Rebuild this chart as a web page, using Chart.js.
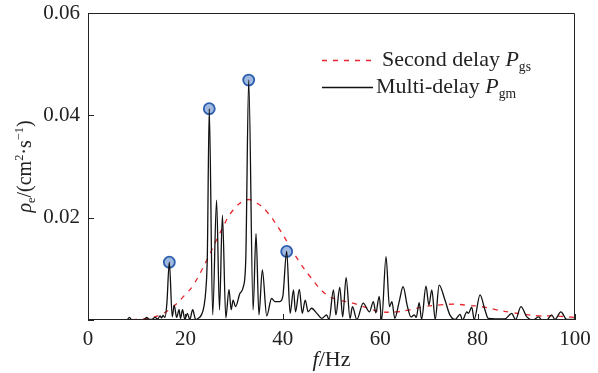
<!DOCTYPE html>
<html>
<head>
<meta charset="utf-8">
<script src="https://cdn.jsdelivr.net/npm/chart.js@4.4.1/dist/chart.umd.min.js"></script>
<style>
html, body { margin: 0; padding: 0; background: #fff; }
</style>
</head>
<body>
<canvas id="grafikSpektrum" width="598" height="373"></canvas>
<script>
// spektrum multi-delay (garis hitam)
const freqMulti = [0, 8, 8.5, 9, 11.5, 12, 12.5, 13, 13.8, 14.3, 14.8, 15.1, 15.4, 15.8, 16.2, 16.7,
    17.3, 17.7, 18.2, 18.7, 19.0, 19.4, 19.9, 20.4, 20.9, 21.5, 22.1, 22.6, 23.3, 23.8, 24.2, 24.5,
    24.9, 25.6, 26.4, 27.0, 27.6, 28.3, 28.95, 29.4, 29.8, 30.3, 31.2, 31.9, 32.4, 33.0, 33.9, 34.5,
    35.1, 35.8, 36.7, 37.7, 38.4, 39.4, 40.0, 40.8, 41.5, 42.2, 42.6, 43.4, 44.0, 44.6, 45.2, 45.9,
    47.0, 48.0, 49.0, 49.5, 50.4, 50.9, 51.7, 52.3, 53.0, 53.8, 54.3, 55.2, 56.5, 57.8, 58.6, 59.1,
    59.8, 60.3, 61.2, 61.9, 62.4, 63.0, 63.9, 64.7, 65.6, 66.3, 67.0, 67.4, 68.0, 68.5, 69.4, 70.0,
    70.6, 71.3, 72.1, 73.3, 74.3, 75.4, 76.4, 76.9, 77.8, 78.1, 78.8, 79.3, 80.5, 81.5, 82.2, 85.6,
    87.0, 87.8, 88.9, 90.1, 91.4, 92.5, 93.2, 94.2, 95.2, 95.9, 97.1, 98.3, 100];
const valMulti = [0, 0, 0.0005, 0, 0, 0.0005, 0.0002, 0.0001, 0.0005, 0.0002, 0.0008, 0.0004, 0.0009, 0.0005, 0.0033, 0.0113,
    0.0006, 0.0029, 0.0005, 0.002, 0.0003, 0.002, 0.0001, 0.0013, 0.0001, 0.002, 0.0001, 0.0003, 0.001, 0.0026, 0.0059, 0.0124,
    0.0413, 0.001, 0.0234, 0.002, 0.0205, 0.0004, 0.006, 0.002, 0.0039, 0.0026, 0.0052, 0.0065, 0.012, 0.0469, 0.002, 0.0169,
    0.001, 0.0098, 0.0008, 0.0042, 0.0036, 0.0036, 0.0046, 0.0134, 0.0013, 0.0059, 0.0016, 0.006, 0.0013, 0.0039, 0.0016, 0.0023,
    0.0013, 0.0003, 0.001, 0.0001, 0.0059, 0.001, 0.0064, 0.0006, 0.0083, 0.0003, 0.0026, 0.0001, 0.0033, 0.0016, 0.0036, 0.0014,
    0.0046, 0, 0.0124, 0.0026, 0.0036, 0.0003, 0.0036, 0.0065, 0.0026, 0.0006, 0.001, 0.0005, 0.0034, 0.0001, 0.0066, 0.0029,
    0.0059, 0.0001, 0.0068, 0.0039, 0.001, 0.0001, 0.0011, 0, 0.0016, 0.0013, 0.0025, 0.0001, 0.0049, 0.002, 0.0003, 0.0002,
    0.0013, 0.0001, 0.0026, 0.0006, 0, 0.0006, 0, 0, 0.001, 0.0001, 0.0016, 0.0001, 0.0001];

// spektrum second delay (garis merah putus-putus)
const freqSecond = [0, 10, 12, 14.8, 17.5, 19.9, 21.6, 24.4, 27.1, 29.8, 32.6, 34.6, 36.7, 39.4, 42.5, 45.6,
    49.0, 51.7, 54.4, 57.5, 60.3, 63.4, 66.1, 69.0, 71.9, 75.0, 77.7, 80.8, 83.9, 86.7, 89.7, 92.4, 95.5, 98.6, 100];
const valSecond = [0, 0.0001, 0.0003, 0.001, 0.0026, 0.0049, 0.0068, 0.0117, 0.017, 0.0215, 0.0235, 0.0229, 0.0212, 0.0176, 0.0127, 0.0085,
    0.0049, 0.0039, 0.0033, 0.0023, 0.0016, 0.0016, 0.002, 0.0026, 0.0029, 0.0031, 0.0029, 0.0026, 0.002, 0.0015, 0.0011, 0.0008, 0.0008, 0.0006, 0.0005];

// puncak yang ditandai lingkaran
const peakFreq = [16.7, 24.9, 33.0, 40.8];
const peakVal = [0.0113, 0.0413, 0.0469, 0.0134];

const xTicks = [0, 20, 40, 60, 80, 100];
const yTicks = [0, 0.02, 0.04, 0.06];

const serif = '"Liberation Serif", "Times New Roman", serif';
const warnaTeks = '#222';

function gabung(xs, ys) {
    return xs.map(function (x, i) {
        return { x: x, y: ys[i] };
    });
}

// tulis teks dengan subskrip / superskrip
function tulisRich(ctx, parts, x, y, size, align) {
    let total = 0;
    parts.forEach(function (p) {
        let s = (p.sub || p.sup) ? size * 0.62 : size;
        ctx.font = (p.it ? 'italic ' : '') + s + 'px ' + serif;
        p.w = ctx.measureText(p.t).width;
        p.s = s;
        total += p.w;
    });
    let cx = align === 'center' ? x - total / 2 : x;
    ctx.textAlign = 'left';
    ctx.textBaseline = 'alphabetic';
    parts.forEach(function (p) {
        ctx.font = (p.it ? 'italic ' : '') + p.s + 'px ' + serif;
        let dy = p.sub ? size * 0.22 : (p.sup ? -size * 0.38 : 0);
        ctx.fillText(p.t, cx, y + dy);
        cx += p.w;
    });
}

const dekorasi = {
    id: 'dekorasi',
    afterDraw: function (chart) {
        const ctx = chart.ctx;
        const a = chart.chartArea;
        const sx = chart.scales.x;
        const sy = chart.scales.y;
        ctx.save();
        ctx.strokeStyle = warnaTeks;
        ctx.lineWidth = 1;
        ctx.beginPath();
        ctx.rect(a.left + 0.5, a.top + 0.5, a.right - a.left - 1, a.bottom - a.top - 1);
        ctx.stroke();
        // tick ke dalam
        ctx.beginPath();
        xTicks.forEach(function (t) {
            let px = Math.round(sx.getPixelForValue(t)) + 0.5;
            ctx.moveTo(px, a.bottom);
            ctx.lineTo(px, a.bottom - 6);
        });
        yTicks.forEach(function (t) {
            let py = Math.round(sy.getPixelForValue(t)) + 0.5;
            ctx.moveTo(a.left, py);
            ctx.lineTo(a.left + 6, py);
        });
        ctx.stroke();

        ctx.fillStyle = warnaTeks;
        // judul sumbu x
        tulisRich(ctx, [{ t: 'f', it: true }, { t: '/Hz' }], (a.left + a.right) / 2, 366, 22, 'center');
        // judul sumbu y
        ctx.save();
        ctx.translate(31, (a.top + a.bottom) / 2);
        ctx.rotate(-Math.PI / 2);
        tulisRich(ctx, [{ t: 'ρ', it: true }, { t: 'e', sub: true }, { t: '/(cm' }, { t: '2', sup: true },
            { t: '·s' }, { t: '−1', sup: true }, { t: ')' }], 0, 0, 20, 'center');
        ctx.restore();

        // legenda
        ctx.lineWidth = 1.3;
        ctx.strokeStyle = '#e8262d';
        ctx.setLineDash([5, 6]);
        ctx.beginPath();
        ctx.moveTo(322, 60.5);
        ctx.lineTo(371, 60.5);
        ctx.stroke();
        ctx.setLineDash([]);
        ctx.strokeStyle = '#111';
        ctx.beginPath();
        ctx.moveTo(322, 87.5);
        ctx.lineTo(373, 87.5);
        ctx.stroke();
        tulisRich(ctx, [{ t: 'Second delay ' }, { t: 'P', it: true }, { t: 'gs', sub: true }], 382, 66, 22, 'left');
        tulisRich(ctx, [{ t: 'Multi-delay ' }, { t: 'P', it: true }, { t: 'gm', sub: true }], 376, 93, 22, 'left');
        ctx.restore();
    }
};

new Chart(document.getElementById('grafikSpektrum'), {
    type: 'line',
    data: {
        datasets: [{
            label: 'Multi-delay',
            data: gabung(freqMulti, valMulti),
            borderColor: '#111',
            borderWidth: 1.3,
            pointRadius: 0,
            cubicInterpolationMode: 'monotone',
            order: 0
        }, {
            label: 'Second delay',
            data: gabung(freqSecond, valSecond),
            borderColor: '#e8262d',
            borderWidth: 1.3,
            borderDash: [5, 6],
            pointRadius: 0,
            tension: 0.4,
            order: 2
        }, {
            label: 'Puncak',
            type: 'scatter',
            data: gabung(peakFreq, peakVal),
            pointRadius: 5.5,
            pointBackgroundColor: '#9fb8df',
            pointBorderColor: '#2c5eae',
            pointBorderWidth: 1.8,
            order: 1
        }]
    },
    options: {
        responsive: false,
        animation: false,
        layout: { padding: { top: 13, right: 23, left: 0, bottom: 0 } },
        plugins: {
            legend: { display: false },
            tooltip: { enabled: false }
        },
        scales: {
            x: {
                type: 'linear',
                min: 0,
                max: 100,
                afterFit: function (scale) {
                    scale.height = 53;
                    scale.paddingLeft = 0;
                    scale.paddingRight = 0;
                },
                afterBuildTicks: function (scale) {
                    scale.ticks = xTicks.map(function (v) { return { value: v }; });
                },
                grid: { display: false, drawTicks: false },
                border: { display: false },
                ticks: {
                    padding: 7,
                    color: warnaTeks,
                    font: { family: serif, size: 21 },
                    maxRotation: 0,
                    callback: function (value) { return String(value); }
                }
            },
            y: {
                min: 0,
                max: 0.06,
                afterFit: function (scale) {
                    scale.width = 88;
                    scale.paddingTop = 0;
                    scale.paddingBottom = 0;
                },
                afterBuildTicks: function (scale) {
                    scale.ticks = yTicks.map(function (v) { return { value: v }; });
                },
                grid: { display: false, drawTicks: false },
                border: { display: false },
                ticks: {
                    padding: 8,
                    color: warnaTeks,
                    font: { family: serif, size: 21 },
                    callback: function (value) {
                        return value === 0 ? '' : value.toFixed(2);
                    }
                }
            }
        }
    },
    plugins: [dekorasi]
});
</script>
</body>
</html>
